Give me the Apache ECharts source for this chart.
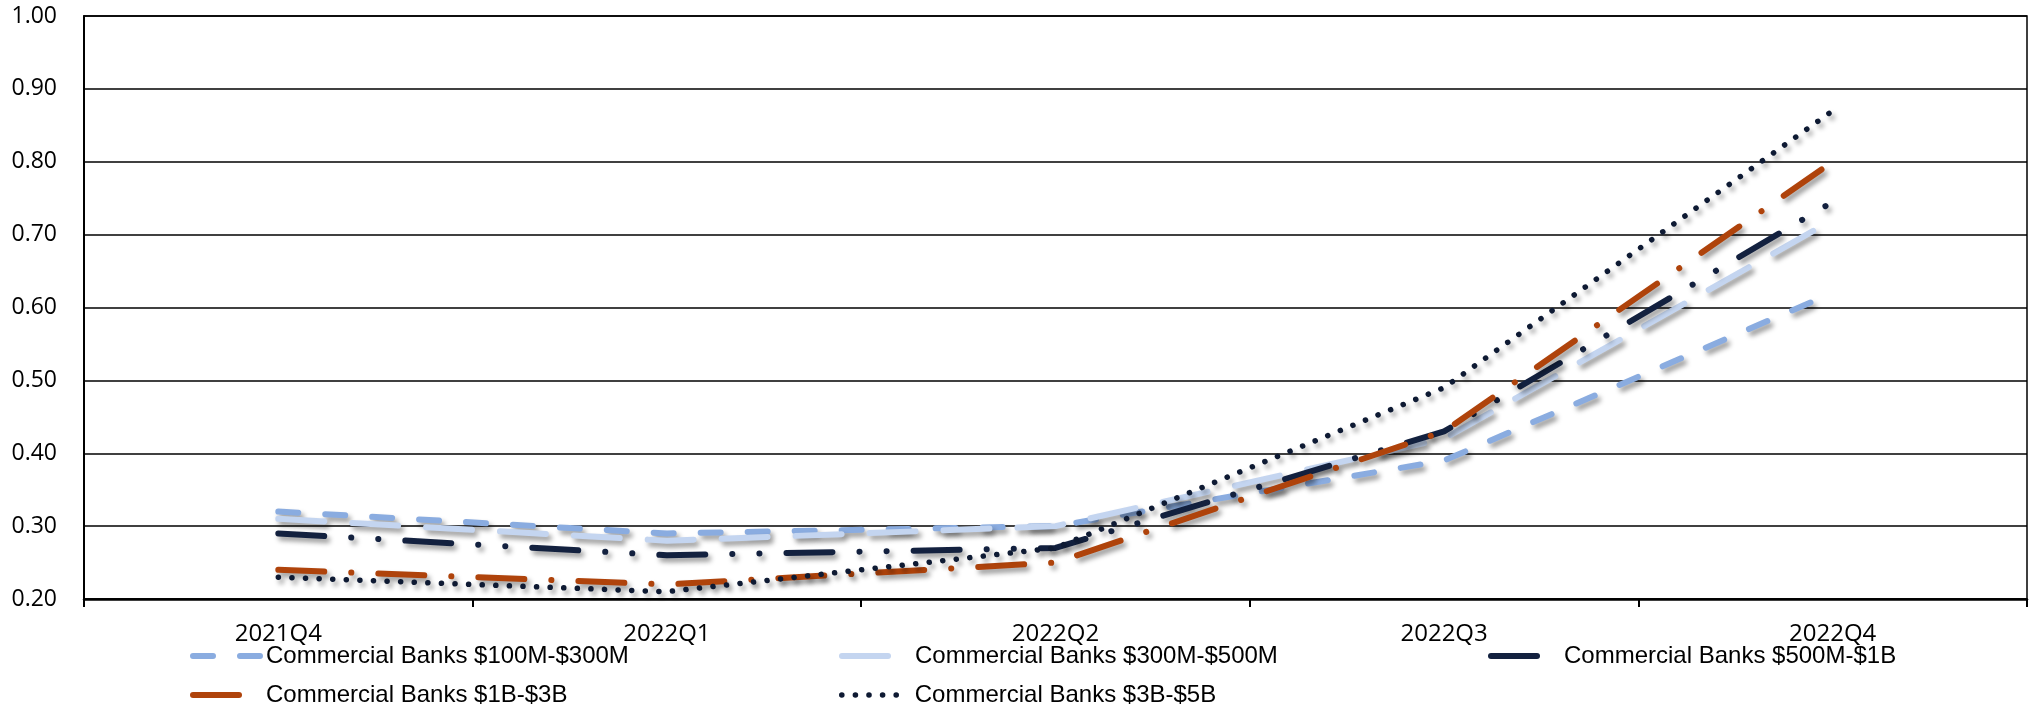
<!DOCTYPE html>
<html>
<head>
<meta charset="utf-8">
<script src="https://cdn.jsdelivr.net/npm/echarts@6/dist/echarts.min.js"></script>
<style>
html,body{margin:0;padding:0;background:#fff;}
#chart{width:2033px;height:711px;}
</style>
</head>
<body>
<div id="chart"></div>
<script>
const categories = ['2021Q4', '2022Q1', '2022Q2', '2022Q3', '2022Q4'];
const seriesNames = [
  'Commercial Banks $100M-$300M',
  'Commercial Banks $300M-$500M',
  'Commercial Banks $500M-$1B',
  'Commercial Banks $1B-$3B',
  'Commercial Banks $3B-$5B'
];
const banks100to300M = [0.32, 0.29, 0.30, 0.39, 0.62];
const banks300to500M = [0.31, 0.28, 0.30, 0.42, 0.72];
const banks500Mto1B  = [0.29, 0.26, 0.27, 0.43, 0.745];
const banks1Bto3B    = [0.24, 0.22, 0.25, 0.43, 0.80];
const banks3Bto5B    = [0.23, 0.21, 0.27, 0.49, 0.87];
const yTicks = [0.2, 0.3, 0.4, 0.5, 0.6, 0.7, 0.8, 0.9, 1.0];

const values = [banks100to300M, banks300to500M, banks500Mto1B, banks1Bto3B, banks3Bto5B];
const colors = ['#8AACE0', '#C4D5F0', '#13213F', '#AF430B', '#0E1A33'];
const dashes = [
  [20, 27],
  [46, 28],
  [46, 27, 0.1, 27, 0.1, 27],
  [46, 27, 0.1, 27],
  [0.1, 13.5]
];
const widths = [6, 6, 6, 6, 5.5];
const legendPos = [
  {left: 190, top: 644, w: 68, pad: 0},
  {left: 839, top: 644, w: 68, pad: 0},
  {left: 1488, top: 644, w: 68, pad: 0},
  {left: 190, top: 683, w: 68, pad: 0},
  {left: 839, top: 683, w: 56, pad: 12}
];

const chart = echarts.init(document.getElementById('chart'));
const series = values.map((d, i) => ({
  name: seriesNames[i],
  type: 'line',
  data: d,
  symbol: 'none',
  showSymbol: false,
  smooth: false,
  z: 2 + i,
  lineStyle: {
    color: colors[i],
    width: widths[i],
    type: dashes[i],
    cap: 'round',
    shadowColor: 'rgba(0,0,0,0.4)',
    shadowBlur: 5,
    shadowOffsetX: 3,
    shadowOffsetY: 4
  },
  itemStyle: {color: colors[i]}
}));
const legends = legendPos.map((p, i) => ({
  data: [seriesNames[i]],
  left: p.left,
  top: p.top,
  padding: 0,
  itemWidth: p.w,
  itemHeight: 14,
  itemStyle: {color: 'rgba(0,0,0,0)', borderWidth: 0, opacity: 0},
  textStyle: {
    fontFamily: 'Liberation Sans, Arial, sans-serif',
    fontSize: 24,
    color: '#000',
    padding: [0, 0, 0, p.pad]
  },
  lineStyle: {
    width: widths[i],
    type: dashes[i],
    cap: 'round',
    shadowBlur: 0,
    shadowOffsetX: 0,
    shadowOffsetY: 0
  },
  selectedMode: false
}));

chart.setOption({
  animation: false,
  backgroundColor: '#fff',
  grid: {left: 84, right: 6, top: 16, bottom: 112, show: true, borderColor: '#000', borderWidth: 1.5},
  legend: legends,
  xAxis: {
    type: 'category',
    data: categories,
    boundaryGap: true,
    axisLine: {lineStyle: {color: '#000', width: 2.5}},
    axisTick: {show: true, length: 8, lineStyle: {color: '#000', width: 2}},
    axisLabel: {color: '#000', fontFamily: 'Open Sans', fontSize: 24, margin: 23}
  },
  yAxis: {
    type: 'value',
    min: yTicks[0],
    max: yTicks[yTicks.length - 1],
    interval: 0.1,
    axisLine: {show: true, lineStyle: {color: '#000', width: 2}},
    axisTick: {show: false},
    splitLine: {lineStyle: {color: '#000', width: 1.5}},
    axisLabel: {
      color: '#000', fontFamily: 'Open Sans', fontSize: 23, margin: 27,
      formatter: v => v.toFixed(2)
    }
  },
  series: series
});
</script>
</body>
</html>
